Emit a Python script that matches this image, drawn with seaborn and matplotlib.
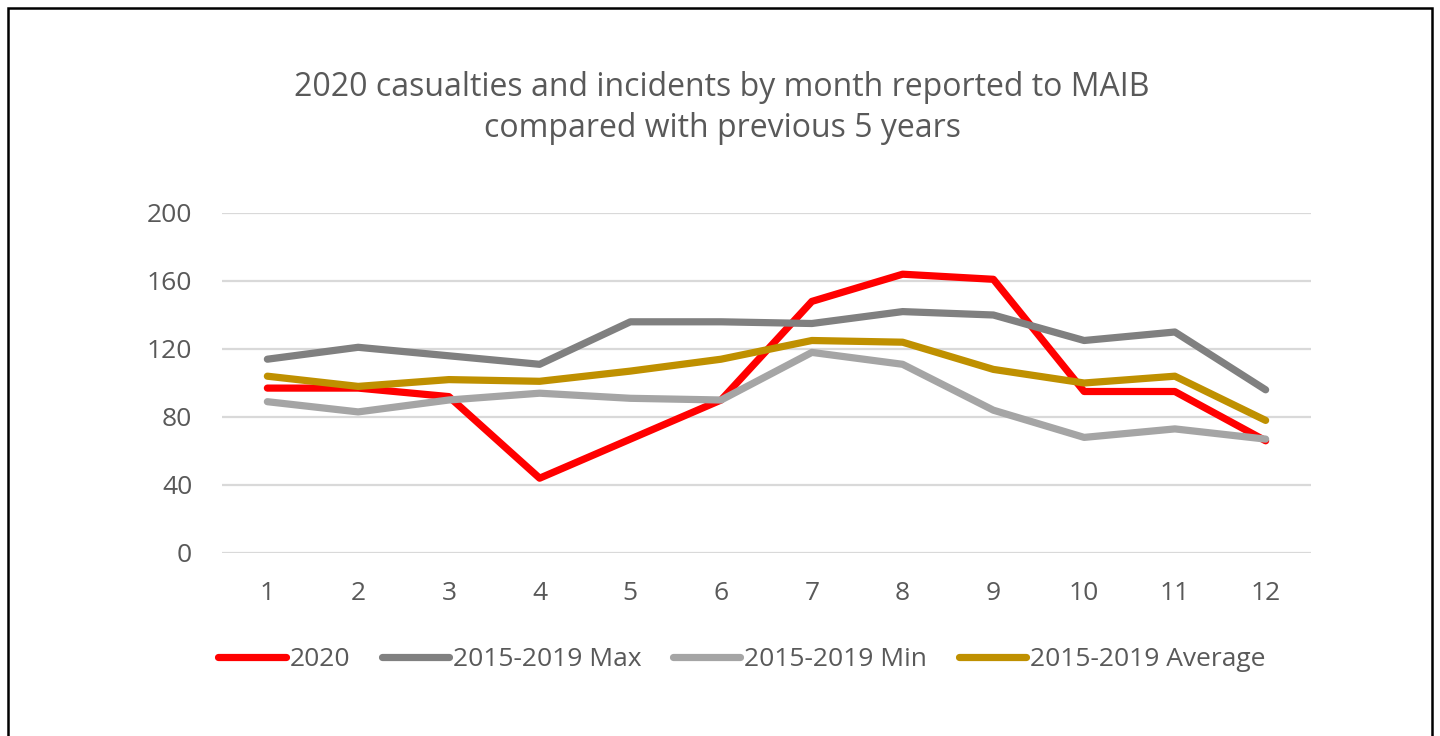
import matplotlib
matplotlib.use("Agg")
import matplotlib.pyplot as plt
import seaborn as sns
import pandas as pd
from matplotlib.patches import Rectangle

months = [1, 2, 3, 4, 5, 6, 7, 8, 9, 10, 11, 12]
y2020 = [97, 97, 92, 44, 67, 90, 148, 164, 161, 95, 95, 66]
ymax = [114, 121, 116, 111, 136, 136, 135, 142, 140, 125, 130, 96]
ymin = [89, 83, 90, 94, 91, 90, 118, 111, 84, 68, 73, 67]
yavg = [104, 98, 102, 101, 107, 114, 125, 124, 108, 100, 104, 78]
series_names = ["2020", "2015-2019 Max", "2015-2019 Min", "2015-2019 Average"]
colors = ["#FF0000", "#808080", "#A5A5A5", "#BF9000"]
yticks = [0, 40, 80, 120, 160, 200]
title = "2020 casualties and incidents by month reported to MAIB\ncompared with previous 5 years"

frames = []
for name, vals in zip(series_names, [y2020, ymax, ymin, yavg]):
    frames.append(pd.DataFrame({"Month": months, "Value": vals, "Series": name}))
df = pd.concat(frames, ignore_index=True)

sns.set_theme(style="white")
plt.rcParams["font.family"] = ["Open Sans", "DejaVu Sans"]
text_color = "#595959"

fig = plt.figure(figsize=(14.4, 7.36), dpi=100)
ax = fig.add_axes([222 / 1440, 1 - 553 / 736, (1311 - 222) / 1440, (553 - 213) / 736])

sns.lineplot(data=df, x="Month", y="Value", hue="Series", hue_order=series_names,
             palette=colors, linewidth=5.2, ax=ax, sort=False)
for ln in ax.get_lines():
    ln.set_solid_capstyle("round")
    ln.set_solid_joinstyle("round")

ax.set_xlim(0.5, 12.5)
ax.set_ylim(0, 200)
ax.set_yticks(yticks)
ax.set_xticks(months)
ax.set_xticklabels([str(m) for m in months])
ax.grid(axis="y", color="#D9D9D9", linewidth=1.6)
ax.set_axisbelow(True)
for s in ax.spines.values():
    s.set_visible(False)
ax.tick_params(axis="both", length=0, labelsize=19, colors=text_color)
ax.tick_params(axis="y", pad=21.5)
ax.tick_params(axis="x", pad=20)
ax.set_xlabel("")
ax.set_ylabel("")

handles, labels = ax.get_legend_handles_labels()
ax.legend_.remove()
for h in handles:
    h.set_linewidth(5.2)
    h.set_solid_capstyle("round")
leg = fig.legend(handles, labels, loc="center", bbox_to_anchor=(742 / 1440, 1 - 660 / 736),
                 ncol=4, frameon=False, fontsize=19, handlelength=2.55,
                 handletextpad=0.15, columnspacing=1.2)
for t in leg.get_texts():
    t.set_color(text_color)

fig.text(722 / 1440, 1 - 108 / 736, title, ha="center", va="center",
         fontsize=23, color=text_color, linespacing=1.32)

fig.patches.append(Rectangle((8 / 1440, -0.05), (1432 - 8) / 1440, 1.05 - 8 / 736 + 0.0,
                             transform=fig.transFigure, fill=False, edgecolor="black",
                             linewidth=1.8))

fig.savefig("out.png", dpi=100)
